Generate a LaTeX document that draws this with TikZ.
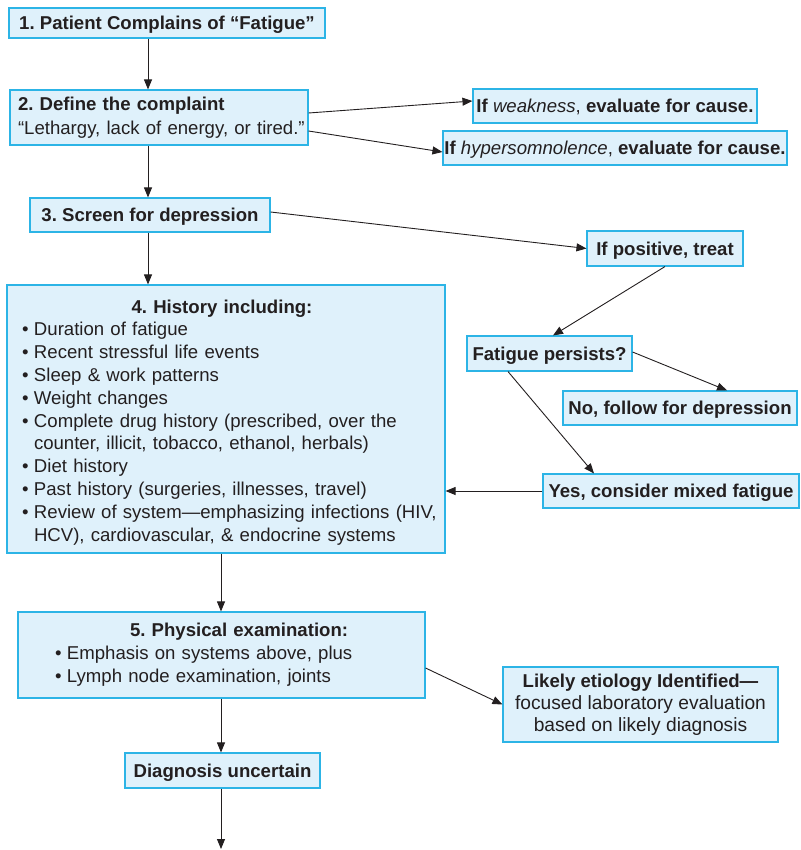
\documentclass[tikz,border=0pt]{standalone}
\usepackage{fontspec}
\setmainfont{Liberation Sans}
\usetikzlibrary{arrows.meta,calc}
\definecolor{bcol}{HTML}{2CB4E6}
\definecolor{fcol}{HTML}{DFF1FB}
\definecolor{tcol}{HTML}{231F20}
\newcommand{\bl}[1]{\mbox{\makebox[12pt][l]{•}#1}}
\newcommand{\cl}[1]{\mbox{\hspace*{12pt}#1}}
\frenchspacing
\hbadness=10000 \hfuzz=50pt
\tikzset{
  box/.style={draw=bcol, fill=fcol, line width=1.1pt, text=tcol, inner sep=0pt,
    font=\fontsize{18.6}{23}\selectfont},
  one/.style={box, text height=13.3pt, text depth=0pt},
  arr/.style={draw=tcol, line width=0.9pt, -{Triangle[length=10pt,width=8pt]}},
}
\begin{document}
\begin{tikzpicture}[x=1pt,y=-1pt]
\useasboundingbox (0,0) rectangle (800,850);
\node[one, minimum width=316, minimum height=30] (b1) at (167,23) {\bfseries 1. Patient Complains of “Fatigue”};
\node[box, minimum width=298, minimum height=55, inner xsep=8pt, text width=282, align=left,
  font=\fontsize{18.6}{24}\selectfont] (b2) at (159,117.5)
  {\mbox{\bfseries 2. Define the complaint}\\\mbox{“Lethargy, lack of energy, or tired.”}};
\node[one, minimum width=284, minimum height=34] (weak) at (615,106) {\bfseries If \mdseries\itshape weakness\upshape, \bfseries evaluate for cause.};
\node[one, minimum width=344, minimum height=34] (hyper) at (615,148) {\bfseries If \mdseries\itshape hypersomnolence\upshape,\bfseries\ evaluate for cause.};
\node[one, minimum width=240, minimum height=34] (b3) at (150,215) {\bfseries 3. Screen for depression};
\node[one, minimum width=156, minimum height=35] (pos) at (665,248.5) {\bfseries If positive, treat};
\node[box, minimum width=438, minimum height=268, inner xsep=15pt, text width=408, align=left,
  font=\fontsize{18.6}{22.8}\selectfont] (hist) at (226,419)
  {\makebox[\linewidth]{\rule{0pt}{20pt}\hspace*{-8pt}\bfseries 4. History including:}\\
   \bl{Duration of fatigue}\\
   \bl{Recent stressful life events}\\
   \bl{Sleep \& work patterns}\\
   \bl{Weight changes}\\
   \bl{Complete drug history (prescribed, over the}\\
   \cl{counter, illicit, tobacco, ethanol, herbals)}\\
   \bl{Diet history}\\
   \bl{Past history (surgeries, illnesses, travel)}\\
   \bl{Review of system—emphasizing infections (HIV,}\\
   \cl{HCV), cardiovascular, \& endocrine systems}};
\node[one, minimum width=165, minimum height=35] (pers) at (549.5,353.5) {\bfseries Fatigue persists?};
\node[one, minimum width=234, minimum height=34] (no) at (680,408) {\bfseries No, follow for depression};
\node[one, minimum width=256, minimum height=34] (yes) at (671,491) {\bfseries Yes, consider mixed fatigue};
\node[box, minimum width=407, minimum height=86, inner xsep=37pt, text width=333, align=left] (phys) at (221.5,655)
  {\mbox{\hspace*{75pt}\bfseries 5. Physical examination:}\\
   \bl{Emphasis on systems above, plus}\\
   \bl{Lymph node examination, joints}};
\node[box, minimum width=275, minimum height=75, align=center,
  font=\fontsize{19.2}{22}\selectfont] (lik) at (640.5,704.5)
  {{\fontsize{18.6}{22}\selectfont\bfseries Likely etiology Identified—}\\ focused laboratory evaluation\\ based on likely diagnosis};
\node[one, minimum width=195, minimum height=35] (diag) at (222.5,770.5) {\bfseries Diagnosis uncertain};
\coordinate (sp) at (148,0);
\coordinate (sp2) at (221,0);
\coordinate (fin) at (221,849);
\draw[arr] (b1.south -| sp) -- (b2.north -| sp);
\draw[arr] ([yshift=4.5pt]b2.east) -- ([yshift=5pt]weak.west);
\draw[arr] ([yshift=-13.5pt]b2.east) -- ([yshift=-4pt]hyper.west);
\draw[arr] (b2.south -| sp) -- (b3.north -| sp);
\draw[arr] ([yshift=3pt]b3.east) -- (pos.west);
\draw[arr] (b3.south -| sp) -- (hist.north -| sp);
\draw[arr] (pos.south) -- ([xshift=3.5pt]pers.north);
\draw[arr] ([yshift=1.5pt]pers.east) -- ([xshift=47pt]no.north);
\draw[arr] ([xshift=-41.5pt]pers.south) -- ([xshift=-77pt]yes.north);
\draw[arr] (yes.west) -- (hist.east |- yes.west);
\draw[arr] (hist.south -| sp2) -- (phys.north -| sp2);
\draw[arr] ([yshift=-13pt]phys.east) -- (lik.west);
\draw[arr] (phys.south -| sp2) -- (diag.north -| sp2);
\draw[arr] (diag.south -| sp2) -- (fin);
\end{tikzpicture}
\end{document}
